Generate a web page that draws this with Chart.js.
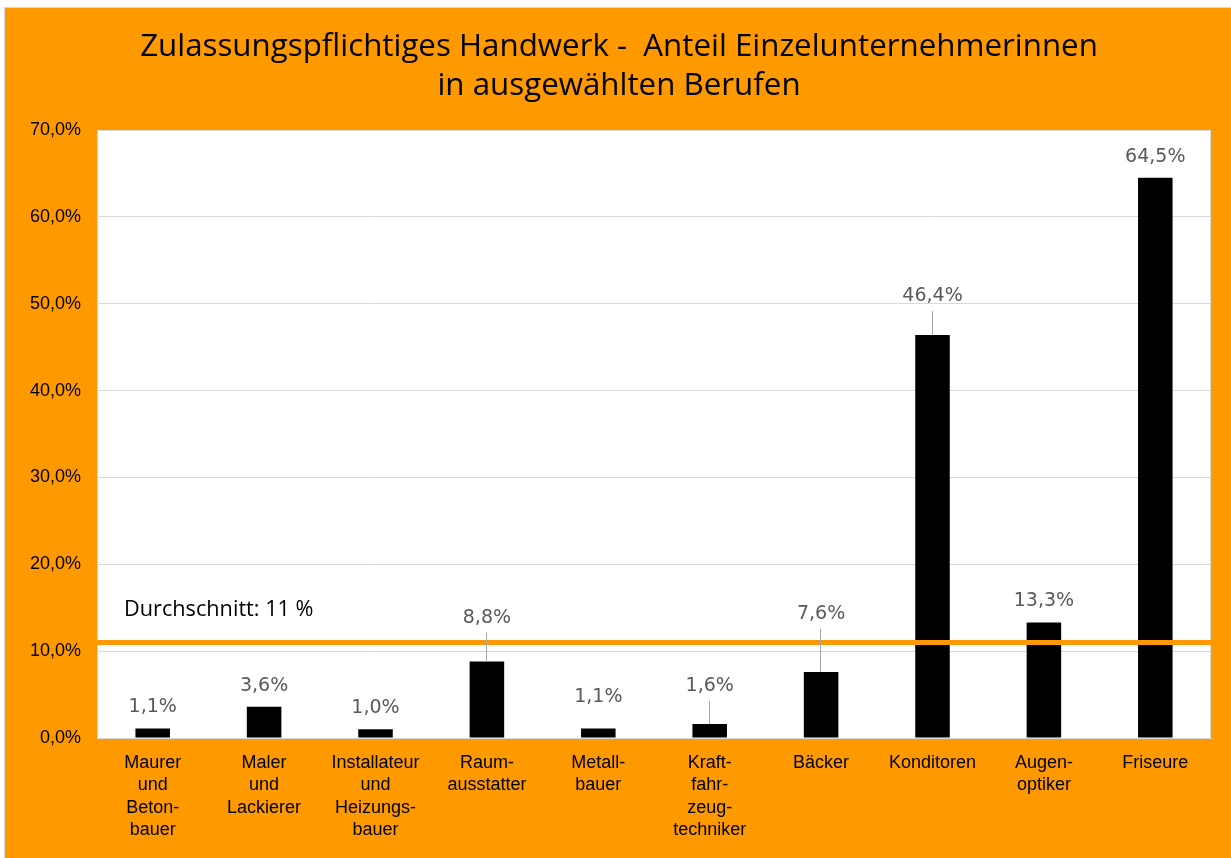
<!DOCTYPE html>
<html>
<head>
<meta charset="utf-8">
<script src="https://cdn.jsdelivr.net/npm/chart.js@4"></script>
<style>
  html, body { margin: 0; padding: 0; background: #fff; }
  #wrap { width: 1231px; height: 858px; }
</style>
</head>
<body>
<div id="wrap"><canvas id="chart" width="1231" height="858"></canvas></div>
<script>
// Daten aus dem Diagramm
const berufe = [
  ['Maurer', 'und', 'Beton-', 'bauer'],
  ['Maler', 'und', 'Lackierer'],
  ['Installateur', 'und', 'Heizungs-', 'bauer'],
  ['Raum-', 'ausstatter'],
  ['Metall-', 'bauer'],
  ['Kraft-', 'fahr-', 'zeug-', 'techniker'],
  ['Bäcker'],
  ['Konditoren'],
  ['Augen-', 'optiker'],
  ['Friseure']
];
const anteilFrauen = [1.1, 3.6, 1.0, 8.8, 1.1, 1.6, 7.6, 46.4, 13.3, 64.5];
const durchschnitt = 11;
const durchschnittText = 'Durchschnitt: 11 %';
const titelZeilen = ['Zulassungspflichtiges Handwerk -  Anteil Einzelunternehmerinnen', 'in ausgewählten Berufen'];
const yTicks = [0, 10, 20, 30, 40, 50, 60, 70];

const ORANGE = '#FF9900';
const pct = v => v.toFixed(1).replace('.', ',') + '%';

// Hintergrund, Titel und weiße Zeichenfläche
const framePlugin = {
  id: 'frame',
  beforeDraw(chart) {
    const { ctx, chartArea: a } = chart;
    ctx.save();
    ctx.fillStyle = '#fff';
    ctx.fillRect(0, 0, chart.width, chart.height);
    ctx.strokeStyle = '#d6d6d6';
    ctx.strokeRect(4.5, 7.5, chart.width, chart.height);
    ctx.fillStyle = ORANGE;
    ctx.fillRect(5, 8, chart.width - 5, chart.height - 8);
    ctx.fillStyle = '#fff';
    ctx.fillRect(a.left, a.top, a.right - a.left, a.bottom - a.top);
    ctx.strokeStyle = '#d9d9d9';
    ctx.lineWidth = 1;
    ctx.strokeRect(a.left + 0.5, a.top + 0.5, a.right - a.left - 1, a.bottom - a.top);
    ctx.fillStyle = '#000';
    ctx.font = '31.3px "Open Sans"';
    ctx.textAlign = 'center';
    ctx.textBaseline = 'alphabetic';
    ctx.fillText(titelZeilen[0], 619, 56);
    ctx.fillText(titelZeilen[1], 619, 95);
    ctx.restore();
  }
};

// Durchschnittslinie über den Balken
const avgPlugin = {
  id: 'avgLine',
  afterDatasetsDraw(chart) {
    const { ctx, chartArea: a, scales } = chart;
    const y = scales.y.getPixelForValue(durchschnitt);
    ctx.save();
    ctx.strokeStyle = ORANGE;
    ctx.lineWidth = 5;
    ctx.beginPath();
    ctx.moveTo(a.left, y);
    ctx.lineTo(a.right, y);
    ctx.stroke();
    ctx.fillStyle = '#000';
    ctx.font = '21.7px "Open Sans"';
    ctx.textAlign = 'left';
    ctx.textBaseline = 'alphabetic';
    ctx.fillText(durchschnittText, a.left + 27, y - 26);
    ctx.restore();
  }
};

// Werte über den Balken, teils mit Führungslinie
const labelPlugin = {
  id: 'valueLabels',
  afterDraw(chart, args, opts) {
    const { ctx } = chart;
    const meta = chart.getDatasetMeta(0);
    ctx.save();
    ctx.font = '19px "DejaVu Sans"';
    ctx.textAlign = 'center';
    ctx.textBaseline = 'middle';
    meta.data.forEach((bar, i) => {
      const lift = opts.lift[i];
      const cy = bar.y - lift;
      if (lift > 35) {
        ctx.strokeStyle = '#a6a6a6';
        ctx.lineWidth = 1;
        ctx.beginPath();
        ctx.moveTo(Math.round(bar.x) - 0.5, cy + 15);
        ctx.lineTo(Math.round(bar.x) - 0.5, bar.y);
        ctx.stroke();
      }
      ctx.fillStyle = '#595959';
      ctx.fillText(pct(anteilFrauen[i]), bar.x, cy);
    });
    ctx.restore();
  }
};

new Chart(document.getElementById('chart'), {
  type: 'bar',
  data: {
    labels: berufe,
    datasets: [{
      data: anteilFrauen,
      backgroundColor: '#000',
      barPercentage: 0.31,
      categoryPercentage: 1
    }]
  },
  options: {
    responsive: false,
    animation: false,
    layout: { padding: { top: 130, right: 20, left: 0, bottom: 0 } },
    plugins: {
      legend: { display: false },
      tooltip: { enabled: false },
      valueLabels: { lift: [21, 21, 21, 44, 31, 38, 58, 39, 21, 21] }
    },
    scales: {
      y: {
        min: 0,
        max: 70,
        afterBuildTicks: s => { s.ticks = yTicks.map(v => ({ value: v })); },
        afterFit: s => { s.width = 97; },
        ticks: {
          callback: v => pct(v),
          color: '#000',
          font: { family: '"Liberation Sans"', size: 18 },
          padding: 16
        },
        grid: { color: '#d9d9d9', drawTicks: false },
        border: { display: false }
      },
      x: {
        afterFit: s => { s.height = 120; },
        ticks: {
          color: '#000',
          font: { family: '"Liberation Sans"', size: 18, lineHeight: '22.3px' },
          padding: 6,
          autoSkip: false,
          maxRotation: 0
        },
        grid: { display: false },
        border: { color: '#d9d9d9' }
      }
    }
  },
  plugins: [framePlugin, avgPlugin, labelPlugin]
});
</script>
</body>
</html>
